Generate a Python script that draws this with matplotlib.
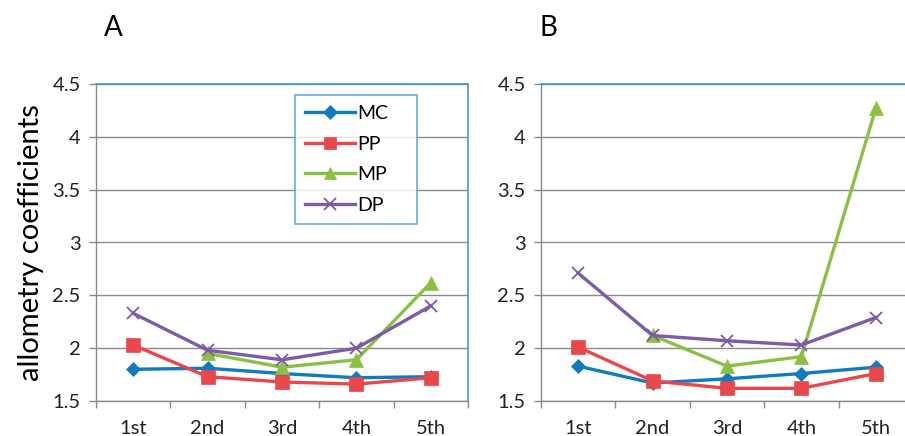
import matplotlib
matplotlib.use("Agg")
import matplotlib.pyplot as plt
from matplotlib.lines import Line2D
import numpy as np

plt.rcParams['font.family'] = ['Lato', 'DejaVu Sans']

categories = ["1st", "2nd", "3rd", "4th", "5th"]
series_names = ["MC", "PP", "MP", "DP"]

a_mc = [1.80, 1.81, 1.76, 1.72, 1.73]
a_pp = [2.03, 1.73, 1.68, 1.66, 1.72]
a_mp = [None, 1.95, 1.82, 1.89, 2.62]
a_dp = [2.33, 1.98, 1.89, 2.00, 2.40]

b_mc = [1.83, 1.67, 1.71, 1.76, 1.82]
b_pp = [2.01, 1.69, 1.62, 1.62, 1.76]
b_mp = [None, 2.12, 1.83, 1.92, 4.27]
b_dp = [2.71, 2.12, 2.07, 2.03, 2.29]

y_ticks = [1.5, 2, 2.5, 3, 3.5, 4, 4.5]
y_tick_labels = ["1.5", "2", "2.5", "3", "3.5", "4", "4.5"]

colors = {"MC": "#0F7BC1", "PP": "#E8474B", "MP": "#8BC043", "DP": "#7D5BA6"}
markers = {"MC": "D", "PP": "s", "MP": "^", "DP": "x"}
msizes = {"MC": 7, "PP": 9.5, "MP": 9.5, "DP": 9}
border_blue = "#3D9AD6"
grid_gray = "#8A8A8A"

fig = plt.figure(figsize=(9.05, 4.36), dpi=100)
W, H = 905, 436

def make_axes(x0, x1):
    return fig.add_axes([x0 / W, (H - 401) / H, (x1 - x0) / W, (401 - 84) / H])

axA = make_axes(96, 468)
axB = make_axes(541, 913)

def draw(ax, data):
    x = np.arange(len(categories))
    for name, vals in zip(series_names, data):
        v = np.array([np.nan if t is None else t for t in vals], dtype=float)
        ax.plot(x, v, color=colors[name], lw=2.4, marker=markers[name],
                markersize=msizes[name], markeredgewidth=1.3 if name == "DP" else 0.5,
                markeredgecolor=colors[name], zorder=3, label=name)
    ax.set_xlim(-0.5, len(categories) - 0.5)
    ax.set_ylim(1.5, 4.5)
    ax.set_yticks(y_ticks)
    ax.set_yticklabels(y_tick_labels)
    ax.set_xticks(x)
    ax.set_xticklabels(categories)
    ax.set_xticks(np.arange(len(categories) + 1) - 0.5, minor=True)
    ax.tick_params(axis='x', which='major', length=0, pad=14, labelsize=14.5, colors="#222222")
    ax.tick_params(axis='x', which='minor', length=5, width=1, color=grid_gray, direction='out')
    ax.tick_params(axis='y', which='major', length=5, width=1, color=grid_gray, pad=6,
                   labelsize=14.5, labelcolor="#222222")
    ax.yaxis.grid(True, color=grid_gray, lw=1)
    ax.set_axisbelow(True)
    for s in ("left", "bottom"):
        ax.spines[s].set_color(grid_gray)
        ax.spines[s].set_linewidth(1)
    for s in ("top", "right"):
        ax.spines[s].set_color(border_blue)
        ax.spines[s].set_linewidth(1.2)

draw(axA, [a_mc, a_pp, a_mp, a_dp])
draw(axB, [b_mc, b_pp, b_mp, b_dp])

axA.set_ylabel("allometry coefficients", fontsize=21, labelpad=6)

fig.text(113 / W, 1 - 28 / H, "A", fontsize=20, ha='center', va='center')
fig.text(548 / W, 1 - 28 / H, "B", fontsize=20, ha='center', va='center')

handles = [Line2D([0], [0], color=colors[n], lw=2.4, marker=markers[n],
                  markersize=msizes[n] * 0.95, markeredgewidth=1.3 if n == "DP" else 0.5,
                  markeredgecolor=colors[n]) for n in series_names]
leg = axA.legend(handles, series_names, loc='center',
                 bbox_to_anchor=((295 - 96) / 372, (401 - 222) / 317, (417 - 295) / 372, (222 - 97) / 317),
                 mode='expand', fancybox=False, frameon=True, fontsize=14,
                 handlelength=2.6, handletextpad=0.1, labelspacing=0.7, borderaxespad=0,
                 borderpad=0.5)
leg.get_frame().set_edgecolor(border_blue)
leg.get_frame().set_linewidth(1.2)
leg.set_zorder(5)

fig.savefig("out.png", dpi=100)
